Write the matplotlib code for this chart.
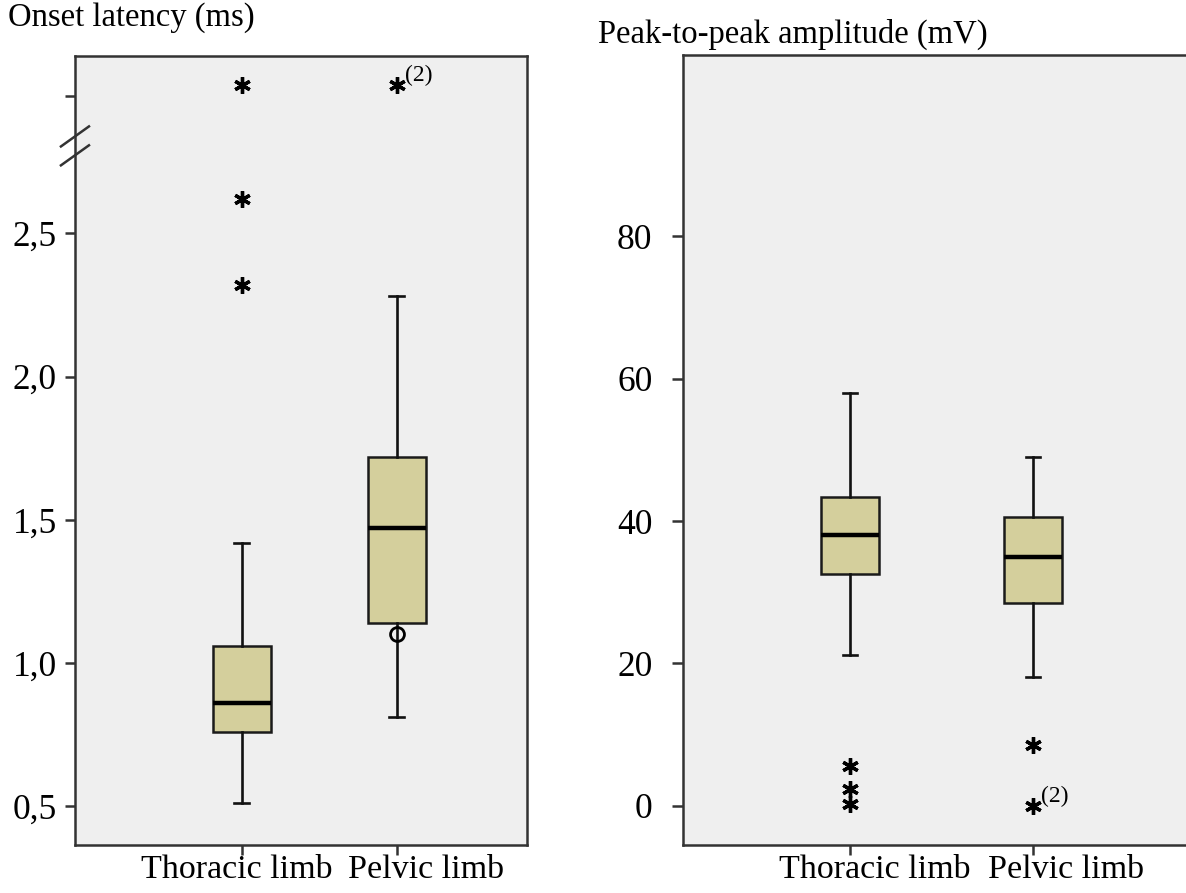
import numpy as np
import matplotlib.pyplot as plt
from matplotlib.transforms import blended_transform_factory, ScaledTranslation

plt.rcParams['font.family'] = ['Liberation Serif', 'DejaVu Serif']

# ---- data ----
groups = ["Thoracic limb", "Pelvic limb"]

# onset latency (ms)
lat_whislo = [0.51, 0.81]
lat_q1 = [0.76, 1.14]
lat_med = [0.86, 1.47]
lat_q3 = [1.06, 1.72]
lat_whishi = [1.42, 2.28]
lat_star = [[2.32, 2.62], []]        # extreme outliers below the break
lat_circle = [[], [1.10]]            # mild outliers
lat_far_pos = [3.02, 3.02]           # outliers drawn above the axis break
lat_far_note = ["", "(2)"]
lat_yticks = [0.5, 1.0, 1.5, 2.0, 2.5, 2.98]
lat_yticklabels = ["0,5", "1,0", "1,5", "2,0", "2,5", ""]

# peak-to-peak amplitude (mV)
amp_whislo = [21.2, 18.1]
amp_q1 = [32.6, 28.5]
amp_med = [38.1, 34.9]
amp_q3 = [43.4, 40.6]
amp_whishi = [58.0, 49.0]
amp_star = [[5.6, 2.4, 0.3], [8.6, 0.0]]
amp_star_note = [["", "", ""], ["", "(2)"]]
amp_yticks = [0, 20, 40, 60, 80]

box_fill = "#d4cf9c"
ax_bg = "#efefef"

fig = plt.figure(figsize=(11.86, 8.93), dpi=100)
ax1 = fig.add_axes([0.0632, 0.0538, 0.3811, 0.8835])
ax2 = fig.add_axes([0.5759, 0.0538, 0.43, 0.8846])


def make_stats(whislo, q1, med, q3, whishi):
    stats = []
    for i in range(len(med)):
        stats.append(dict(whislo=whislo[i], q1=q1[i], med=med[i], q3=q3[i],
                          whishi=whishi[i], fliers=[]))
    return stats


def draw_boxes(ax, stats, width, capw):
    ax.bxp(stats, positions=[1, 2], widths=width, capwidths=capw,
           showfliers=False, patch_artist=True,
           boxprops=dict(facecolor=box_fill, edgecolor="#1a1a1a", linewidth=1.8),
           medianprops=dict(color="black", linewidth=3.2),
           whiskerprops=dict(color="#111111", linewidth=1.9),
           capprops=dict(color="#111111", linewidth=1.9))


def style_axes(ax, label_shift):
    ax.set_facecolor(ax_bg)
    for s in ax.spines.values():
        s.set_linewidth(1.8)
        s.set_color("#333333")
    ax.tick_params(axis='both', width=1.8, color="#333333")
    ax.tick_params(axis='x', labelsize=24.5, length=7, pad=0)
    ax.tick_params(axis='y', labelsize=25.5)
    ax.set_xticks([1, 2])
    ax.set_xticklabels(groups)
    # category labels sit a little right of their ticks in the original
    for lab, dx in zip(ax.get_xticklabels(), label_shift):
        lab.set_transform(lab.get_transform() + ScaledTranslation(dx / 100, 0, fig.dpi_scale_trans))


# ---- left panel ----
draw_boxes(ax1, make_stats(lat_whislo, lat_q1, lat_med, lat_q3, lat_whishi), 0.374, 0.097)
style_axes(ax1, [-5, 29])
ax1.set_xlim(-0.077, 2.839)
ax1.set_ylim(0.364, 3.12)
ax1.set_yticks(lat_yticks)
ax1.set_yticklabels(lat_yticklabels)
ax1.tick_params(axis='y', length=7, pad=6)

for i, pos in enumerate([1, 2]):
    ys = lat_star[i] + [lat_far_pos[i]]
    ax1.plot([pos] * len(ys), ys, linestyle='none', marker=(6, 2, 0),
             markersize=12, markeredgewidth=2.4, color='black')
    if lat_circle[i]:
        ax1.plot([pos] * len(lat_circle[i]), lat_circle[i], linestyle='none',
                 marker='o', markersize=10, markerfacecolor='none',
                 markeredgewidth=2, markeredgecolor='black')
    if lat_far_note[i]:
        ax1.annotate(lat_far_note[i], (pos, lat_far_pos[i]), xytext=(6, -1),
                     textcoords='offset points', fontsize=17, va='bottom')

# axis break marks on the left spine
tr = blended_transform_factory(ax1.transAxes, ax1.transData)
for y0 in [2.804, 2.738]:
    ax1.plot([-0.031, 0.031], [y0, y0 + 0.07], transform=tr, color="#333333",
             linewidth=1.8, clip_on=False)

# ---- right panel ----
draw_boxes(ax2, make_stats(amp_whislo, amp_q1, amp_med, amp_q3, amp_whishi), 0.317, 0.078)
style_axes(ax2, [24, 33])
ax2.spines['right'].set_visible(False)
ax2.set_xlim(0.083, 2.878)
ax2.set_ylim(-5.5, 105.5)
ax2.set_yticks(amp_yticks)
ax2.tick_params(axis='y', length=8, pad=14)

for i, pos in enumerate([1, 2]):
    ax2.plot([pos] * len(amp_star[i]), amp_star[i], linestyle='none', marker=(6, 2, 0),
             markersize=12, markeredgewidth=2.4, color='black')
    for v, note in zip(amp_star[i], amp_star_note[i]):
        if note:
            ax2.annotate(note, (pos, v), xytext=(6, -1), textcoords='offset points',
                         fontsize=17, va='bottom')

fig.text(8 / 1186, 1 - 26 / 893, "Onset latency (ms)", fontsize=23.5, va='baseline', ha='left')
fig.text(598 / 1186, 1 - 43 / 893, "Peak-to-peak amplitude (mV)", fontsize=23.5, va='baseline', ha='left')

fig.savefig("out.png", dpi=100)
